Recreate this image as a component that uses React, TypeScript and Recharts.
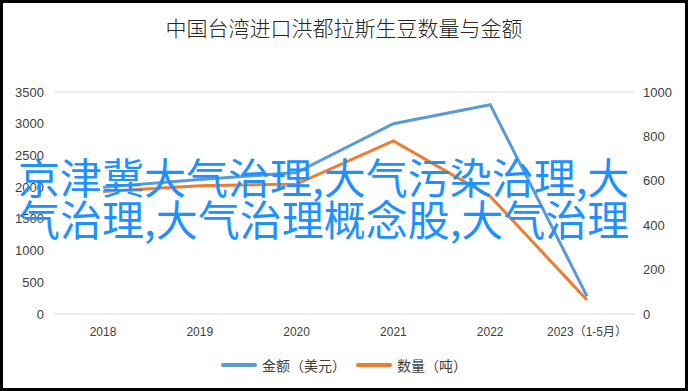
import React from 'react';
import { LineChart, Line, XAxis, YAxis, CartesianGrid, Legend } from 'recharts';

const years = ['2018', '2019', '2020', '2021', '2022', '2023（1-5月）'];
const amountUSD = [2000, 2120, 2230, 3000, 3300, 280];
const quantityTon = [552, 578, 585, 780, 530, 63];
const leftTicks = [0, 500, 1000, 1500, 2000, 2500, 3000, 3500];
const rightTicks = [0, 200, 400, 600, 800, 1000];
const seriesOrder = ['amount', 'qty'];

const title = '中国台湾进口洪都拉斯生豆数量与金额';
const overlayLines = ['京津冀大气治理,大气污染治理,大', '气治理,大气治理概念股,大气治理'];

const data = years.map((y, i) => ({ year: y, amount: amountUSD[i], qty: quantityTon[i] }));

const FONT = '"Noto Sans CJK SC", "Liberation Sans", sans-serif';
const TICK_FONT = '"Liberation Sans", "Noto Sans CJK SC", sans-serif';

const renderLegend = (props: any) => {
  const payload = [...(props.payload || [])].sort(
    (a: any, b: any) => seriesOrder.indexOf(a.dataKey) - seriesOrder.indexOf(b.dataKey)
  );
  return (
    <div style={{ display: 'flex', justifyContent: 'center', alignItems: 'center', fontFamily: FONT, fontSize: 14, color: '#404040', height: 20 }}>
      {payload.map((p: any, i: number) => (
        <div key={i} style={{ display: 'flex', alignItems: 'center', marginRight: i === 0 ? 10 : 0 }}>
          <div style={{ width: 36, height: 4, background: p.color, borderRadius: 2, marginRight: 5 }} />
          <span>{p.value}</span>
        </div>
      ))}
    </div>
  );
};

export default function App() {
  return (
    <div style={{ position: 'absolute', left: 0, top: 0, width: 688, height: 391, background: '#fff', overflow: 'hidden' }}>
      <div style={{ position: 'absolute', left: 0, top: 12, width: 688, textAlign: 'center', fontFamily: FONT, fontSize: 21, fontWeight: 300, color: '#262626', lineHeight: '30px' }}>
        {title}
      </div>
      <LineChart width={688} height={391} data={data} margin={{ top: 92, right: 0, bottom: 21, left: 0 }}>
        <CartesianGrid vertical={false} stroke="#d9d9d9" strokeWidth={1} />
        <XAxis
          dataKey="year"
          axisLine={false}
          tickLine={false}
          tickSize={0}
          tickMargin={13}
          padding={{ left: 48, right: 48 }}
          interval={0}
          height={36}
          tick={{ fontSize: 12, fill: '#404040', fontFamily: TICK_FONT }}
        />
        <YAxis
          yAxisId="left"
          domain={[0, 3500]}
          ticks={leftTicks}
          axisLine={false}
          tickLine={false}
          tickSize={0}
          tickMargin={11}
          width={55}
          tick={{ fontSize: 13, fill: '#404040', fontFamily: TICK_FONT }}
        />
        <YAxis
          yAxisId="right"
          orientation="right"
          domain={[0, 1000]}
          ticks={rightTicks}
          axisLine={false}
          tickLine={false}
          tickSize={0}
          tickMargin={8}
          width={53}
          tick={{ fontSize: 13, fill: '#404040', fontFamily: TICK_FONT, textAnchor: 'start' }}
        />
        <Line yAxisId="left" type="linear" dataKey="amount" name="金额（美元）" stroke="#5b9bd5" strokeWidth={3} dot={false} isAnimationActive={false} />
        <Line yAxisId="right" type="linear" dataKey="qty" name="数量（吨）" stroke="#ed7d31" strokeWidth={3} dot={false} isAnimationActive={false} />
        <Legend verticalAlign="bottom" content={renderLegend} wrapperStyle={{ position: 'absolute', left: 0, top: 355, width: 688 }} />
      </LineChart>
      <div style={{ position: 'absolute', left: 18, top: 155, fontFamily: FONT, fontSize: 42, lineHeight: '42px', color: '#1e90ff', whiteSpace: 'nowrap' }}>
        {overlayLines.map((l, i) => (
          <div key={i}>{l}</div>
        ))}
      </div>
      <div style={{ position: 'absolute', left: 0, top: 0, width: 688, height: 391, border: '3px solid #000', boxSizing: 'border-box', pointerEvents: 'none' }} />
    </div>
  );
}
